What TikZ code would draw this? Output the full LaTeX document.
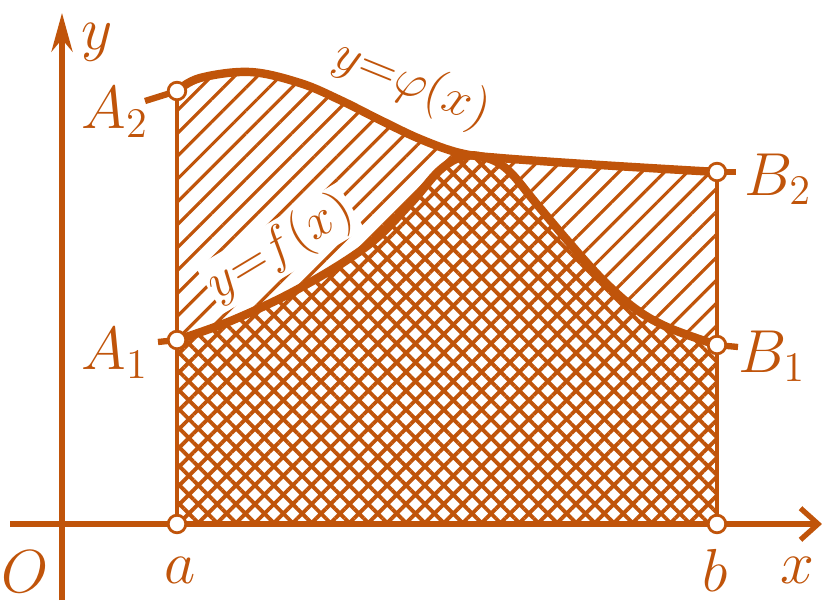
\documentclass[tikz,border=0pt]{standalone}
\usepackage{amsmath,amssymb}
\usepackage{tikz}
\usetikzlibrary{arrows.meta,patterns.meta}
\usepackage{xcolor}
\definecolor{rust}{RGB}{192,84,10}
\tikzset{
  curve/.style={rust,line width=2.4pt,line cap=round},
  axis/.style={rust,line width=1.5pt},
  edge/.style={rust,line width=1pt},
  tick/.style={rust,line width=1.8pt},
  pt/.style={circle,draw=rust,fill=white,line width=0.8pt,inner sep=0pt,minimum size=5pt},
  lab/.style={rust,font=\fontsize{17}{20}\selectfont},
  clab/.style={rust,fill=white,inner sep=0.5pt,font=\fontsize{15}{18}\selectfont},
  phicurve/.style={insert path={-- plot[smooth,tension=0.6] coordinates {(1.77,5.17) (2.0,5.30) (2.5,5.36) (3.0,5.25) (3.4,5.08) (3.8,4.88) (4.2,4.69) (4.6,4.55) (5.0,4.50) (6.0,4.43) (7.17,4.36)}}},
  fcurve/.style={insert path={-- plot[smooth,tension=0.6] coordinates {(1.77,2.68) (2.33,2.88) (3.0,3.20) (3.67,3.62) (4.1,4.04) (4.4,4.38) (4.65,4.52) (4.9,4.49) (5.1,4.36) (5.35,4.06) (5.67,3.68) (6.0,3.31) (6.33,3.01) (6.67,2.81) (7.17,2.63)}}},
}

\begin{document}
\begin{tikzpicture}
\useasboundingbox (0,0) rectangle (8.33,6.08);
% points of the figure
\coordinate (O) at (0.62,0.84);
\coordinate (a) at (1.77,0.84);
\coordinate (b) at (7.17,0.84);
\coordinate (A1) at (1.77,2.68);
\coordinate (A2) at (1.77,5.17);
\coordinate (B1) at (7.17,2.63);
\coordinate (B2) at (7.17,4.36);
\coordinate (yb) at (0.62,0.08);
\coordinate (yt) at (0.62,5.95);
\coordinate (xl) at (0.10,0.84);
\coordinate (xr) at (8.22,0.84);
\coordinate (A1t) at (1.58,2.66);
\coordinate (A2t) at (1.45,5.07);
\coordinate (B1t) at (7.38,2.61);
\coordinate (B2t) at (7.36,4.36);
% hatched areas
\fill[pattern={Lines[angle=45,distance=4.6pt,line width=0.9pt]},pattern color=rust]
  (a) [phicurve] -- (b) -- cycle;
\fill[white] (a) [fcurve] -- (b) -- cycle;
\fill[pattern={Hatch[angle=45,distance=3.8pt,line width=1.1pt]},pattern color=rust]
  (a) [fcurve] -- (b) -- cycle;
% borders and curves
\draw[edge] (a) -- (A2);
\draw[edge] (b) -- (B2);
\node[clab,rotate=31] (lf) at (2.80,3.60) {$y{=}f(x)$};
\draw[curve] (A2) [phicurve];
\draw[curve] (A1) [fcurve];
\draw[tick] (A1) -- (A1t);
\draw[tick] (A2) -- (A2t);
\draw[tick] (B1) -- (B1t);
\draw[tick] (B2) -- (B2t);
% axes
\draw[axis,-{Stealth[length=11pt,width=6pt]}] (yb) -- (yt);
\draw[axis,-{Straight Barb[length=5pt,width=9pt,line width=1.5pt]}] (xl) -- (xr);
\draw[axis] (a) -- (b);
\foreach \p in {a,b,A1,A2,B1,B2} {
  \node[pt] (\p c) at (\p) {};
}
% labels
\node[lab] (ly) at (0.97,5.66) {$y$};
\node[lab] (lx) at (7.97,0.38) {$x$};
\node[lab] (lO) at (0.25,0.36) {$O$};
\node[lab] (la) at (1.80,0.38) {$a$};
\node[lab] (lb) at (7.15,0.38) {$b$};
\node[lab] (lA1) at (1.15,2.55) {$A_1$};
\node[lab] (lA2) at (1.15,4.96) {$A_2$};
\node[lab] (lB1) at (7.72,2.52) {$B_1$};
\node[lab] (lB2) at (7.78,4.29) {$B_2$};
\node[clab,rotate=-22] (lphi) at (4.12,5.24) {$y{=}\varphi(x)$};
\end{tikzpicture}
\end{document}
